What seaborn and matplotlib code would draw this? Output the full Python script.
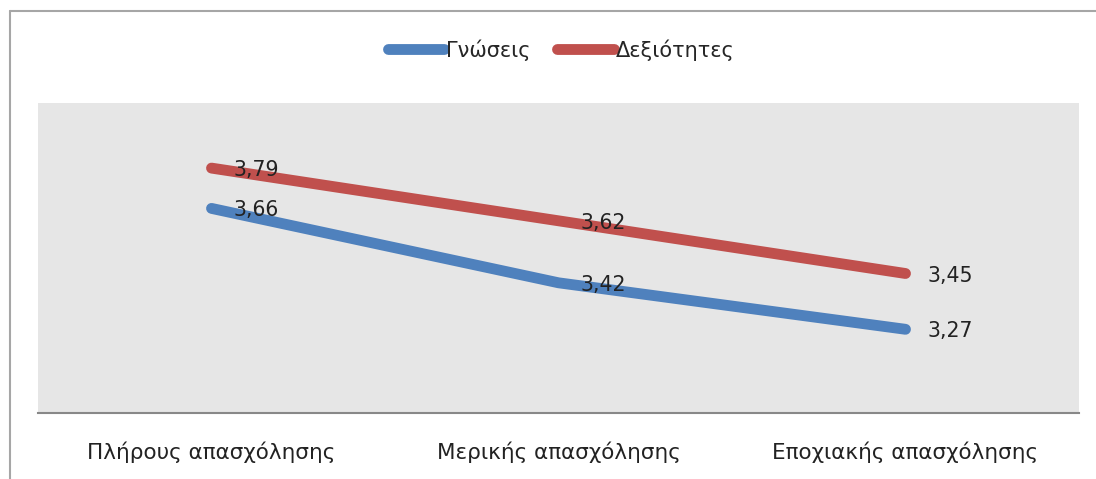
import matplotlib
matplotlib.use("Agg")
import matplotlib.pyplot as plt
import seaborn as sns
import pandas as pd
from matplotlib.lines import Line2D

categories = ["Πλήρους απασχόλησης", "Μερικής απασχόλησης", "Εποχιακής απασχόλησης"]
series_names = ["Γνώσεις", "Δεξιότητες"]
gnoseis = [3.66, 3.42, 3.27]
dexiotites = [3.79, 3.62, 3.45]
colors = ["#4F81BD", "#C0504D"]

rows = []
for name, vals in zip(series_names, [gnoseis, dexiotites]):
    for i, (c, v) in enumerate(zip(categories, vals)):
        rows.append({"cat": i, "val": v, "series": name})
df = pd.DataFrame(rows)

sns.set_theme(style="white")
plt.rcParams['font.family'] = ['DejaVu Sans']

fig = plt.figure(figsize=(10.96, 4.79), dpi=100)
ax = fig.add_axes([38/1096, 1 - 413/479, (1079-38)/1096, (413-103)/479])
ax.set_facecolor("#E6E6E6")

sns.lineplot(data=df, x="cat", y="val", hue="series", palette=colors,
             hue_order=series_names, linewidth=7.8, ax=ax, legend=False,
             solid_capstyle="round")

ax.set_xlim(-0.5, 2.5)
ax.set_ylim(3.0, 4.0)
ax.set_xticks(range(len(categories)))
ax.set_xticklabels(categories, fontsize=15.5, color="#222222")
ax.tick_params(axis="x", length=0, pad=20.5)
ax.set_yticks([])
ax.set_xlabel("")
ax.set_ylabel("")
for s in ["top", "left", "right"]:
    ax.spines[s].set_visible(False)
ax.spines["bottom"].set_color("#888888")
ax.spines["bottom"].set_linewidth(1.5)

for vals in [gnoseis, dexiotites]:
    for i, v in enumerate(vals):
        ax.annotate(f"{v:.2f}".replace(".", ","), (i, v), xytext=(15.5, -1.5),
                    textcoords="offset points", va="center", ha="left",
                    fontsize=14.8, color="#222222")

handles = [Line2D([0], [0], color=c, lw=7.8, solid_capstyle="round") for c in colors]
fig.legend(handles, series_names, loc="center", bbox_to_anchor=(561/1096, 1 - 50/479),
           ncol=2, frameon=False, fontsize=15, handlelength=2.7, handletextpad=0.1,
           columnspacing=1.3)

fig.add_artist(Line2D([10/1096, 1], [1 - 11/479, 1 - 11/479], color="#A6A6A6", lw=1.5,
                      transform=fig.transFigure))
fig.add_artist(Line2D([10/1096, 10/1096], [0, 1 - 11/479], color="#A6A6A6", lw=1.5,
                      transform=fig.transFigure))

fig.savefig("out.png", dpi=100, facecolor="white")
